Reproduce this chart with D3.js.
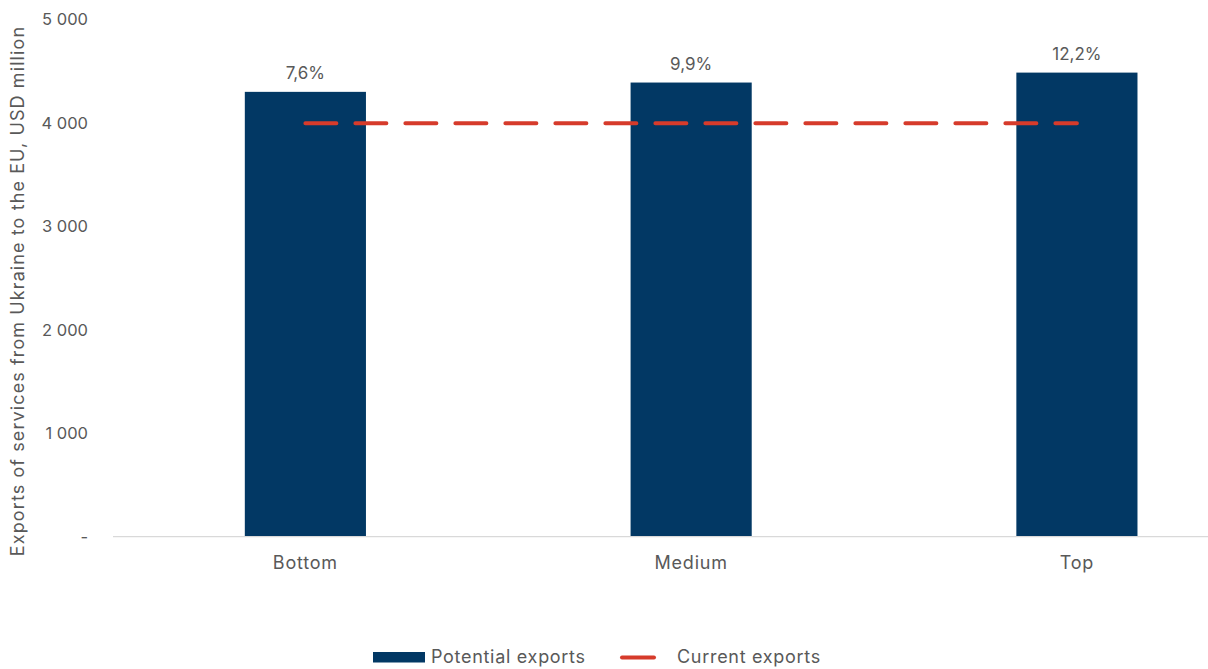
<!DOCTYPE html>
<html>
<head>
<meta charset="utf-8">
<script src="https://cdn.jsdelivr.net/npm/d3@7"></script>
<style>
  html, body { margin: 0; padding: 0; background: #fff; }
  svg { display: block; font-family: Inter, "Noto Sans", sans-serif; }
</style>
</head>
<body>
<svg id="chart" width="1208" height="669"></svg>
<script>
// Scenarios and exports of services from Ukraine to the EU (USD million)
const categories = ["Bottom", "Medium", "Top"];
const potentialExports = [4298, 4388, 4484];
const currentExports = [3995, 3995, 3995];
const growthLabels = ["7,6%", "9,9%", "12,2%"];
const yTicks = [0, 1000, 2000, 3000, 4000, 5000];
const yTickLabels = ["-", "1 000", "2 000", "3 000", "4 000", "5 000"];

const barColor = "#023864";
const lineColor = "#D63B2B";
const textColor = "#595959";

const svg = d3.select("#chart");

const x = d3.scaleBand()
  .domain(categories)
  .range([112.5, 1269.8])
  .paddingInner(0.686)
  .paddingOuter(0.343);

const y = d3.scaleLinear()
  .domain([0, 5000])
  .range([536.7, 19.2]);

// Y axis tick labels (no axis line)
const yAxis = d3.axisLeft(y)
  .tickValues(yTicks)
  .tickSize(0)
  .tickPadding(0)
  .tickFormat((d, i) => yTickLabels[i]);

svg.append("g")
  .attr("transform", "translate(88,0)")
  .call(yAxis)
  .call(g => g.select(".domain").remove())
  .call(g => g.selectAll("text")
    .attr("fill", textColor)
    .attr("font-size", 16.5)
    .attr("font-family", "Inter, 'Noto Sans', sans-serif")
    .attr("dy", "0.35em"));

// Y axis title
svg.append("text")
  .attr("transform", "translate(24,291) rotate(-90)")
  .attr("text-anchor", "middle")
  .attr("fill", textColor)
  .attr("font-size", 18)
  .attr("letter-spacing", 1.1)
  .text("Exports of services from Ukraine to the EU, USD million");

// Bars
svg.append("g")
  .selectAll("rect")
  .data(categories)
  .join("rect")
  .attr("x", d => x(d))
  .attr("width", x.bandwidth())
  .attr("y", (d, i) => y(potentialExports[i]))
  .attr("height", (d, i) => y(0) - y(potentialExports[i]))
  .attr("fill", barColor);

// Baseline / category axis
svg.append("line")
  .attr("x1", 113).attr("x2", 1208)
  .attr("y1", y(0)).attr("y2", y(0))
  .attr("stroke", "#D9D9D9")
  .attr("stroke-width", 1.3);

svg.append("g")
  .selectAll("text")
  .data(categories)
  .join("text")
  .attr("x", d => x(d) + x.bandwidth() / 2)
  .attr("y", 569)
  .attr("text-anchor", "middle")
  .attr("fill", textColor)
  .attr("font-size", 18)
  .attr("letter-spacing", 0.8)
  .text(d => d);

// Growth labels above bars
svg.append("g")
  .selectAll("text")
  .data(categories)
  .join("text")
  .attr("x", d => x(d) + x.bandwidth() / 2)
  .attr("y", (d, i) => y(potentialExports[i]) - 13)
  .attr("text-anchor", "middle")
  .attr("fill", textColor)
  .attr("font-size", 17)
  .text((d, i) => growthLabels[i]);

// Current exports dashed line
const line = d3.line()
  .x((d, i) => x(categories[i]) + x.bandwidth() / 2)
  .y(d => y(d));

svg.append("path")
  .datum(currentExports)
  .attr("d", line)
  .attr("fill", "none")
  .attr("stroke", lineColor)
  .attr("stroke-width", 4)
  .attr("stroke-linecap", "round")
  .attr("stroke-dasharray", "31 19");

// Legend
const legend = svg.append("g");
legend.append("rect")
  .attr("x", 373).attr("y", 652)
  .attr("width", 52).attr("height", 10.5)
  .attr("fill", barColor);
legend.append("text")
  .attr("x", 431).attr("y", 663)
  .attr("fill", textColor)
  .attr("font-size", 18)
  .attr("letter-spacing", 0.7)
  .text("Potential exports");
legend.append("line")
  .attr("x1", 622).attr("x2", 654)
  .attr("y1", 657.5).attr("y2", 657.5)
  .attr("stroke", lineColor)
  .attr("stroke-width", 4)
  .attr("stroke-linecap", "round");
legend.append("text")
  .attr("x", 677).attr("y", 663)
  .attr("fill", textColor)
  .attr("font-size", 18)
  .attr("letter-spacing", 0.7)
  .text("Current exports");
</script>
</body>
</html>
